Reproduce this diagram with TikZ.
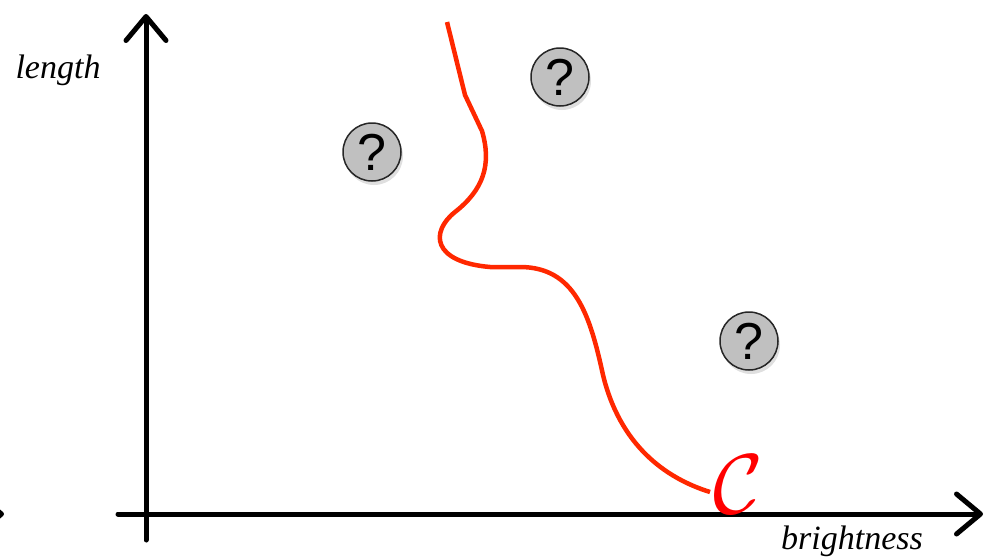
\documentclass[tikz,border=0pt]{standalone}
\usepackage{fontspec}
\setmainfont{Liberation Serif}
\newfontfamily\qfont{Liberation Sans}
\usetikzlibrary{arrows.meta,shadows}
\definecolor{curvered}{RGB}{255,40,0}
\definecolor{qgray}{RGB}{192,192,192}
\tikzset{
  axis/.style={line width=5pt, line cap=round, -{Straight Barb[length=24pt,width=40pt,round]}},
  qbubble/.style={circle, draw=black!85, line width=1.5pt, fill=qgray, minimum size=58pt, inner sep=0pt,
    font=\fontsize{52}{52}\qfont\selectfont, drop shadow={opacity=0.25, shadow xshift=2pt, shadow yshift=-4pt}},
  lbl/.style={font=\itshape\fontsize{34}{40}\selectfont, inner sep=0pt},
  crv/.style={curvered, line width=4.5pt, line cap=butt}
}
\begin{document}
\begin{tikzpicture}[x=1pt,y=-1pt]
\useasboundingbox (0,0) rectangle (987,558);
% axes
\coordinate (ybot) at (146,540);
\coordinate (ytop) at (146,14);
\coordinate (xleft) at (118,514);
\coordinate (xright) at (983,514);
\draw[axis] (ybot) -- (ytop);
\draw[axis] (xleft) -- (xright);
% stray arrow tip at left edge
\coordinate (s1) at (-30,514);
\coordinate (s2) at (4,514);
\draw[axis] (s1) -- (s2);
% labels
\node[lbl] (ylab) at (58,70) {length};
\node[lbl] (xlab) at (852,541) {brightness};
% question bubbles
\node[qbubble] (q1) at (372,152) {?};
\node[qbubble] (q2) at (560,77) {?};
\node[qbubble] (q3) at (749,341) {?};
% curve
\coordinate (c0) at (447,22);
\coordinate (c1) at (465,95);
\coordinate (c2) at (482,131);
\coordinate (c4) at (490,267);
\coordinate (c5) at (520,267);
\coordinate (c6) at (710,492);
\draw[crv] (c0) -- (c1) -- (c2)
  .. controls (492,165) and (483,190) .. (455,212)
  .. controls (430,232) and (432,262) .. (c4)
  -- (c5)
  .. controls (575,267) and (590,315) .. (603,375)
  .. controls (620,445) and (665,478) .. (c6);
\node[text=red, inner sep=0pt] (clab) at (738,484) {\scalebox{8.5}{$\mathcal{C}$}};
\end{tikzpicture}
\end{document}
